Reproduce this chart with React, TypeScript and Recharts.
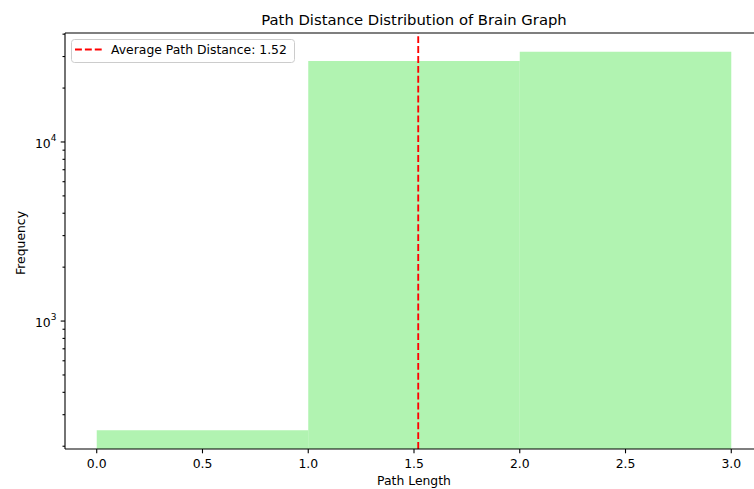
import React from 'react';
import {
  ComposedChart,
  XAxis,
  YAxis,
  ReferenceArea,
  ReferenceLine,
  Legend,
  Label,
} from 'recharts';

// ---- data ----
const binStarts = [0, 1, 2];
const binEnds = [1, 2, 3];
const binCounts = [246, 28300, 31900];
const averagePathDistance = 1.52;
const legendLabel = 'Average Path Distance: 1.52';
const xTicks = [0, 0.5, 1, 1.5, 2, 2.5, 3];
const yMajorTicks = [1000, 10000];
const yMinorTicks = [200, 300, 400, 500, 600, 700, 800, 900, 2000, 3000, 4000, 5000, 6000, 7000, 8000, 9000, 20000, 30000, 40000];
const xDomain: [number, number] = [-0.15, 3.15];
const yDomain: [number, number] = [193, 40600];

const chartData = binStarts.map((s, i) => ({ x: (s + binEnds[i]) / 2, count: binCounts[i] }));
const yTicks = [...yMinorTicks, ...yMajorTicks].sort((a, b) => a - b);

const FONT = 'DejaVu Sans, sans-serif';
const FS = 12.4;

const YTick = (props: any) => {
  const { x, y, payload } = props;
  const v = payload.value;
  const major = yMajorTicks.includes(v);
  const len = major ? 4.3 : 2.5;
  return (
    <g>
      <line x1={x - len} x2={x} y1={y} y2={y} stroke="#000" strokeWidth={1.1} />
      {major && (
        <text x={x - 8.6} y={y + 6} textAnchor="end" fontSize={FS} fontFamily={FONT} fill="#000">
          <tspan>10</tspan>
          <tspan dy={-7} fontSize={9}>{Math.round(Math.log10(v))}</tspan>
        </text>
      )}
    </g>
  );
};

const XTick = (props: any) => {
  const { x, y, payload } = props;
  return (
    <g>
      <line x1={x} x2={x} y1={y} y2={y + 4.3} stroke="#000" strokeWidth={1.1} />
      <text x={x} y={y + 19} textAnchor="middle" fontSize={FS} fontFamily={FONT} fill="#000">
        {Number(payload.value).toFixed(1)}
      </text>
    </g>
  );
};

const LegendBox = () => (
  <svg width={224} height={24} style={{ display: 'block' }}>
    <rect x={0.5} y={0.5} width={223} height={23} rx={3} ry={3} fill="rgba(255,255,255,0.8)" stroke="#cccccc" strokeWidth={1} />
    <line x1={4} x2={30.7} y1={10.5} y2={10.5} stroke="#ff0000" strokeWidth={1.85} strokeDasharray="6.9 3" />
    <text x={40} y={15.3} fontSize={FS} fontFamily={FONT} fill="#000">{legendLabel}</text>
  </svg>
);

export default function App() {
  return (
    <div style={{ position: 'absolute', left: 0, top: 0, width: 754, height: 489, overflow: 'hidden', background: '#fff' }}>
      <ComposedChart
        width={780}
        height={489}
        data={chartData}
        margin={{ top: 33, right: 17, bottom: 10, left: 10 }}
      >
        <XAxis
          dataKey="x"
          type="number"
          domain={xDomain}
          allowDataOverflow
          ticks={xTicks}
          interval={0}
          tick={<XTick />}
          tickLine={false}
          tickSize={0}
          tickMargin={0}
          height={30}
          axisLine={{ stroke: '#000', strokeWidth: 1.1 }}
        >
          <Label
            content={(p: any) => {
              const vb = p.viewBox;
              return (
                <text x={vb.x + vb.width / 2} y={vb.y + 36} textAnchor="middle" fontSize={FS} fontFamily={FONT} fill="#000">
                  Path Length
                </text>
              );
            }}
          />
        </XAxis>
        <YAxis
          dataKey="count"
          type="number"
          scale="log"
          domain={yDomain}
          allowDataOverflow
          ticks={yTicks}
          interval={0}
          tick={<YTick />}
          tickLine={false}
          tickSize={0}
          tickMargin={0}
          width={55}
          axisLine={{ stroke: '#000', strokeWidth: 1.1 }}
        >
          <Label
            content={(p: any) => {
              const vb = p.viewBox;
              const cy = vb.y + vb.height / 2 + 2;
              return (
                <text x={25} y={cy} transform={`rotate(-90, 25, ${cy})`} textAnchor="middle" fontSize={FS} fontFamily={FONT} fill="#000">
                  Frequency
                </text>
              );
            }}
          />
        </YAxis>
        {binStarts.map((s, i) => (
          <ReferenceArea
            key={i}
            x1={s}
            x2={binEnds[i]}
            y1={yDomain[0]}
            y2={binCounts[i]}
            fill="#90EE90"
            fillOpacity={0.7}
            stroke="none"
            ifOverflow="hidden"
          />
        ))}
        <ReferenceLine
          x={averagePathDistance}
          stroke="#ff0000"
          strokeWidth={1.85}
          strokeDasharray="6.9 3"
        />
        <ReferenceLine y={yDomain[1]} stroke="#000" strokeWidth={1.1} ifOverflow="visible" />
        <ReferenceLine x={xDomain[1]} stroke="#000" strokeWidth={1.1} ifOverflow="visible" />
        <Legend
          layout="horizontal"
          verticalAlign="middle"
          align="center"
          content={() => <LegendBox />}
          wrapperStyle={{ position: 'absolute', left: 71, top: 38.5, width: 224, height: 24 }}
        />
      </ComposedChart>
      <svg width={754} height={489} style={{ position: 'absolute', left: 0, top: 0, pointerEvents: 'none' }}>
        <text x={414} y={25} textAnchor="middle" fontSize={14.8} fontFamily={FONT} fill="#000">
          Path Distance Distribution of Brain Graph
        </text>
      </svg>
    </div>
  );
}
